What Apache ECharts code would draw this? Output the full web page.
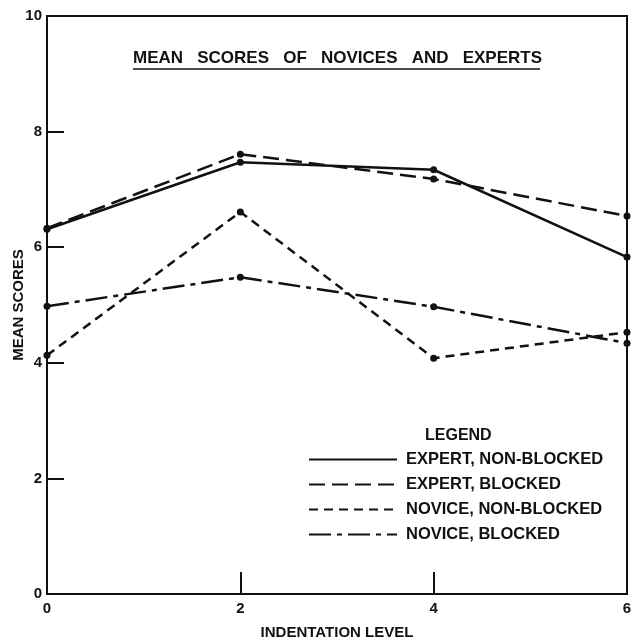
<!DOCTYPE html>
<html>
<head>
<meta charset="utf-8">
<script src="https://cdn.jsdelivr.net/npm/echarts@6/dist/echarts.min.js"></script>
<style>
  html, body { margin: 0; padding: 0; background: #fff; }
  #chart { width: 631px; height: 643px; }
</style>
</head>
<body>
<div id="chart"></div>
<script>
// indentation levels on the x axis
const levels = [0, 2, 4, 6];
// mean scores
const expertNonBlocked = [6.31, 7.47, 7.34, 5.83];
const expertBlocked = [6.33, 7.61, 7.18, 6.54];
const noviceNonBlocked = [4.13, 6.61, 4.08, 4.53];
const noviceBlocked = [4.98, 5.48, 4.97, 4.34];
const seriesNames = ['EXPERT, NON-BLOCKED', 'EXPERT, BLOCKED', 'NOVICE, NON-BLOCKED', 'NOVICE, BLOCKED'];

const ink = '#111';
const font = 'Liberation Sans';

const chart = echarts.init(document.getElementById('chart'));

function pairs(vals) {
  return levels.map((x, i) => [x, vals[i]]);
}

function line(name, vals, dash) {
  return {
    name: name,
    type: 'line',
    data: pairs(vals),
    symbol: 'circle',
    symbolSize: 7,
    itemStyle: { color: ink },
    lineStyle: { color: ink, width: 2.5, type: dash },
    animation: false
  };
}

chart.setOption({
  backgroundColor: '#fff',
  animation: false,
  grid: {
    left: 47, right: 4, top: 16, bottom: 49,
    outerBoundsMode: 'none',
    show: true, borderColor: ink, borderWidth: 2
  },
  xAxis: {
    type: 'value', min: 0, max: 6, interval: 2,
    name: 'INDENTATION LEVEL', nameLocation: 'middle', nameGap: 31, nameMoveOverlap: false,
    nameTextStyle: { color: ink, fontFamily: font, fontSize: 15, fontWeight: 'bold' },
    axisLine: { lineStyle: { color: ink, width: 2 } },
    axisTick: { inside: true, length: 22, lineStyle: { color: ink, width: 2 } },
    axisLabel: { color: ink, fontFamily: font, fontSize: 15, fontWeight: 'bold', margin: 7 },
    splitLine: { show: false }
  },
  yAxis: {
    type: 'value', min: 0, max: 10, interval: 2,
    name: 'MEAN SCORES', nameLocation: 'middle', nameGap: 21, nameMoveOverlap: false,
    nameTextStyle: { color: ink, fontFamily: font, fontSize: 15, fontWeight: 'bold' },
    axisLine: { lineStyle: { color: ink, width: 2 } },
    axisTick: { inside: true, length: 17, lineStyle: { color: ink, width: 2 } },
    axisLabel: { color: ink, fontFamily: font, fontSize: 15, fontWeight: 'bold', margin: 5 },
    splitLine: { show: false }
  },
  legend: {
    orient: 'vertical',
    left: 308, top: 451, padding: 0,
    itemWidth: 88, itemHeight: 14, itemGap: 8,
    itemStyle: { opacity: 0 },
    textStyle: { color: ink, fontFamily: font, fontSize: 16.5, fontWeight: 'bold', padding: [0, 0, 0, 4] },
    data: seriesNames
  },
  graphic: [
    {
      type: 'text', left: 133, top: 50,
      style: { text: 'MEAN   SCORES   OF   NOVICES   AND   EXPERTS', fill: ink, font: 'bold 17px "Liberation Sans"' }
    },
    {
      type: 'line', shape: { x1: 133, y1: 69, x2: 540, y2: 69 },
      style: { stroke: ink, lineWidth: 1.5 }
    },
    {
      type: 'text', left: 425, top: 428,
      style: { text: 'LEGEND', fill: ink, font: 'bold 16px "Liberation Sans"' }
    }
  ],
  series: [
    line(seriesNames[0], expertNonBlocked, 'solid'),
    line(seriesNames[1], expertBlocked, [16, 7]),
    line(seriesNames[2], noviceNonBlocked, [9, 6]),
    line(seriesNames[3], noviceBlocked, [22, 6, 5, 6])
  ]
});
</script>
</body>
</html>
